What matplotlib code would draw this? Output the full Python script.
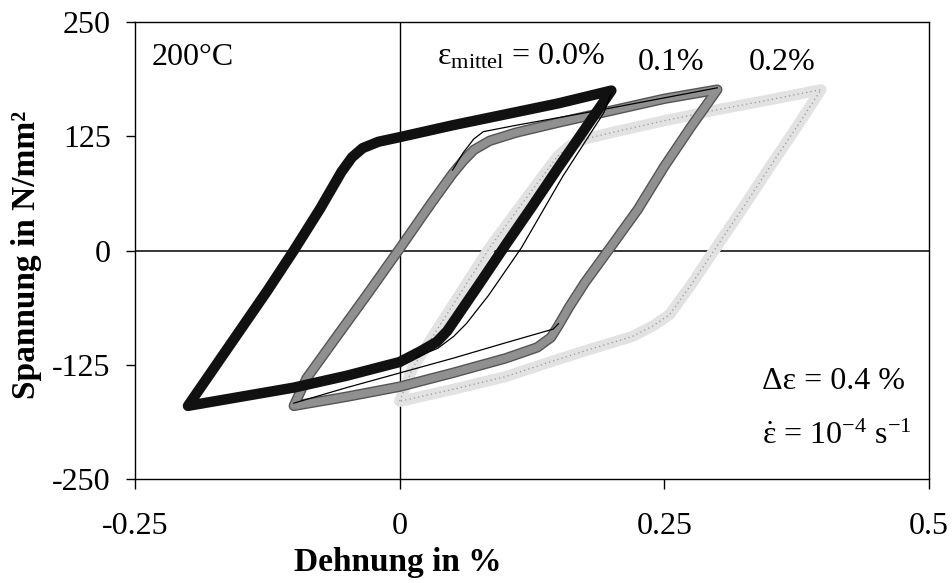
import numpy as np
import matplotlib
matplotlib.use("Agg")
import matplotlib.pyplot as plt
from matplotlib.patches import Polygon

# Hysteresis loops, 200 C, delta eps = 0.4 %
# mean strain 0.0 %
loop00_x = [-0.200, -0.175, -0.150, -0.125, -0.100, -0.075, -0.055, -0.045, -0.035, -0.020,
            0.000, 0.050, 0.100, 0.150, 0.200,
            0.175, 0.150, 0.125, 0.100, 0.075, 0.055, 0.045, 0.035, 0.020,
            0.000, -0.050, -0.100, -0.150, -0.200]
loop00_y = [-170, -128, -86, -44, 0, 46, 86, 102, 112, 119,
            124, 137, 149, 161, 175,
            133, 91, 48, 6, -37, -71, -88, -100, -110,
            -122, -137, -150, -160, -170]

# mean strain 0.1 %
loop01_x = [-0.100, -0.088, -0.060, -0.030, 0.000, 0.030, 0.050, 0.060, 0.070, 0.085,
            0.110, 0.150, 0.200, 0.250, 0.300,
            0.275, 0.250, 0.225, 0.197, 0.175, 0.160, 0.150, 0.143, 0.130,
            0.100, 0.050, 0.000, -0.050, -0.100]
loop01_y = [-170, -140, -95, -47, 2, 52, 84, 98, 110, 120,
            129, 140, 153, 166, 176,
            135, 92, 45, 0, -35, -62, -82, -95, -106,
            -118, -134, -149, -160, -170]

# mean strain 0.2 %
loop02_x = [0.000, 0.012, 0.050, 0.085, 0.120, 0.149, 0.160, 0.175, 0.200, 0.250, 0.300,
            0.350, 0.398,
            0.375, 0.350, 0.325, 0.297, 0.275, 0.255, 0.240, 0.220, 0.180,
            0.142, 0.100, 0.050, 0.000]
loop02_y = [-165, -129, -60, 3, 58, 103, 114, 122, 129, 142, 154,
            165, 176,
            135, 92, 48, 0, -38, -70, -82, -94, -108,
            -122, -138, -152, -165]

# first cycle of the 0.1 % loop (thin line)
first01_x = [0.050, 0.060, 0.070, 0.079, 0.110, 0.177, 0.250, 0.300]
first01_y = [88, 107, 122, 130, 137, 151, 167, 178]
first01_low_x = [0.150, 0.145, 0.100, 0.050, 0.000, -0.050, -0.100]
first01_low_y = [-80, -86, -101, -118, -134, -150, -167]

# first cycle of the 0.0 % loop, falling branch (thin line)
first00_x = [0.199, 0.193, 0.154, 0.115, 0.084, 0.063, 0.051, 0.036, 0.015]
first00_y = [170, 151, 81, 3, -49, -80, -94, -107, -117]

xticks = [-0.25, 0, 0.25, 0.5]
xticklabels = ["-0.25", "0", "0.25", "0.5"]
yticks = [-250, -125, 0, 125, 250]
yticklabels = ["-250", "-125", "0", "125", "250"]

plt.rcParams['font.family'] = ['Liberation Serif', 'DejaVu Serif']
plt.rcParams['mathtext.fontset'] = 'custom'
plt.rcParams['mathtext.rm'] = 'Liberation Serif'
plt.rcParams['mathtext.it'] = 'Liberation Serif:italic'
plt.rcParams['axes.unicode_minus'] = False

W, H = 953, 583
fig = plt.figure(figsize=(W / 100, H / 100), dpi=100)
L, R, T, B = 135, 929, 22, 479
ax = fig.add_axes([L / W, 1 - B / H, (R - L) / W, (B - T) / H])

ax.set_xlim(-0.25, 0.5)
ax.set_ylim(-250, 250)

# zero lines
ax.axhline(0, color='black', lw=1.1, zorder=1)
ax.axvline(0, color='black', lw=1.0, zorder=1)


def loop(xs, ys, color, lw, z, ls='-'):
    p = Polygon(np.column_stack([xs, ys]), closed=True, fill=False, edgecolor=color,
                lw=lw, ls=ls, joinstyle='round', zorder=z)
    ax.add_patch(p)


# 0.2 % loop: light speckled band
loop(loop02_x, loop02_y, '#e2e2e2', 8, 2)
loop(loop02_x, loop02_y, '#999999', 0.9, 2.1, ls=(0, (1, 2.5)))

# 0.1 % loop: grey band
loop(loop01_x, loop01_y, '#555555', 7.5, 3)
loop(loop01_x, loop01_y, '#909090', 5.5, 3.1)
ax.plot(first01_x, first01_y, color='black', lw=0.9, zorder=3.2)
ax.plot(first01_low_x, first01_low_y, color='black', lw=0.9, zorder=3.2)

# 0.0 % loop: black band
loop(loop00_x, loop00_y, '#111111', 7.5, 4)
ax.plot(first00_x, first00_y, color='black', lw=0.9, zorder=4.1)

for s in ax.spines.values():
    s.set_linewidth(1.0)

ax.set_xticks(xticks)
ax.set_xticklabels(xticklabels)
ax.set_yticks(yticks)
ax.set_yticklabels(yticklabels)
ax.tick_params(axis='x', direction='out', length=7, width=1, pad=17, labelsize=23)
ax.tick_params(axis='y', direction='out', length=6.5, width=1, pad=11, labelsize=23)

ax.set_xlabel('Dehnung in %', fontsize=24, fontweight='bold')
ax.xaxis.set_label_coords((398 - L) / (R - L), -0.149)
ax.set_ylabel('Spannung in N/mm²', fontsize=24, fontweight='bold')
ax.yaxis.set_label_coords(-0.117, 0.49)

fs = 23
ax.text(-0.234, 203, '200°C', fontsize=fs, ha='left', va='baseline')
ax.text(0.035, 203, r'ε$_{\mathrm{mittel}}$ = 0.0%', fontsize=fs, ha='left', va='baseline')
ax.text(0.225, 198, '0.1%', fontsize=fs, ha='left', va='baseline')
ax.text(0.330, 198, '0.2%', fontsize=fs, ha='left', va='baseline')
ax.text(0.342, -151, 'Δε = 0.4 %', fontsize=fs, ha='left', va='baseline')
ax.text(0.342, -212, r'$\dot{\mathrm{\varepsilon}}$ = 10$^{-4}$ s$^{-1}$', fontsize=fs,
        ha='left', va='baseline')

fig.savefig('out.png', dpi=100)
